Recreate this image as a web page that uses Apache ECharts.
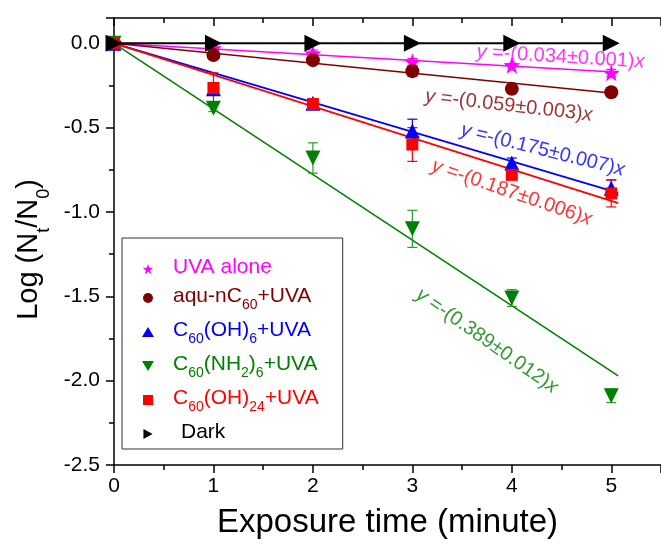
<!DOCTYPE html>
<html>
<head>
<meta charset="utf-8">
<script src="https://cdn.jsdelivr.net/npm/echarts@6/dist/echarts.min.js"></script>
<style>html,body{margin:0;padding:0;background:#fff}#c{width:661px;height:550px}</style>
</head>
<body>
<div id="c"></div>
<script>
// ---- data ----
const times = [0, 1, 2, 3, 4, 5];
const seriesNames = ['UVA alone', 'aqu-nC60+UVA', 'C60(OH)6+UVA', 'C60(NH2)6+UVA', 'C60(OH)24+UVA', 'Dark'];
const uvaAlone   = [0, -0.03, -0.06, -0.11, -0.13, -0.175];
const uvaAloneErr = [0, 0.01, 0.02, 0.02, 0.01, 0.02];
const aquNC60    = [0, -0.07, -0.10, -0.165, -0.27, -0.29];
const aquNC60Err = [0, 0.01, 0.02, 0.03, 0.01, 0.02];
const c60OH6     = [0, -0.27, -0.355, -0.52, -0.71, -0.86];
const c60OH6Err  = [0, 0.03, 0.02, 0.07, 0.03, 0.05];
const c60NH26    = [0, -0.385, -0.68, -1.10, -1.51, -2.09];
const c60NH26Err = [0, 0.02, 0.09, 0.11, 0.05, 0.04];
const c60OH24    = [0, -0.265, -0.36, -0.60, -0.78, -0.89];
const c60OH24Err = [0, 0.09, 0.03, 0.10, 0.02, 0.08];
const dark       = [0, 0, 0, 0, 0, 0];
// fitted lines (start and end points)
const fitUva   = [[0, 0], [5.07, -0.172]];
const fitAqu   = [[0, 0], [5.07, -0.299]];
const fitOH6   = [[0, 0], [5.07, -0.887]];
const fitNH2   = [[0, 0], [5.07, -1.972]];
const fitOH24  = [[0, 0], [5.07, -0.948]];
const fitDark  = [[0, 0], [5, 0]];
// equation annotations: [x, y, text, rotation]
const eqUva  = [4.49, -0.081, '0.034±0.001', -3.5];
const eqAqu  = [3.97, -0.37, '0.059±0.003', -6.5];
const eqOH6  = [4.31, -0.633, '0.175±0.007', -14];
const eqOH24 = [4.00, -0.885, '0.187±0.006', -19];
const eqNH2  = [3.75, -1.765, '0.389±0.012', -35];
const xTicks = [0, 1, 2, 3, 4, 5];
const yTicks = [-2.5, -2.0, -1.5, -1.0, -0.5, 0.0];

const colors = {uva: '#FF00FF', aqu: '#800000', oh6: '#0000FF', nh2: '#008000', oh24: '#FF0000', dark: '#000000'};
const STAR = 'path://M0,-10 L2.35,-3.24 9.51,-3.09 3.8,1.24 5.88,8.09 0,4 -5.88,8.09 -3.8,1.24 -9.51,-3.09 -2.35,-3.24Z';
const legendIcons = [STAR, 'circle', 'triangle', 'path://M0,0 L12,0 6,10Z', 'path://M0,0 L10,0 10,10 0,10Z', 'path://M0,0 L11,6 0,12Z'];

const chart = echarts.init(document.getElementById('c'), null, {renderer: 'canvas'});
const FONT = 'Liberation Sans, Arial, sans-serif';

function pts(vals) { return times.map((t, i) => [t, vals[i]]); }
function errPts(vals, errs) { return times.map((t, i) => [t, vals[i] - errs[i], vals[i] + errs[i]]); }

function errSeries(vals, errs, color) {
  return {
    type: 'custom', silent: true, z: 3,
    data: errPts(vals, errs),
    renderItem: function (params, api) {
      const x = api.value(0), lo = api.value(1), hi = api.value(2);
      if (hi - lo < 1e-9) return null;
      const a = api.coord([x, lo]), b = api.coord([x, hi]);
      const hw = 5;
      const st = {stroke: color, lineWidth: 1.2, fill: null};
      return {type: 'group', children: [
        {type: 'line', shape: {x1: a[0], y1: a[1], x2: b[0], y2: b[1]}, style: st},
        {type: 'line', shape: {x1: a[0] - hw, y1: a[1], x2: a[0] + hw, y2: a[1]}, style: st},
        {type: 'line', shape: {x1: b[0] - hw, y1: b[1], x2: b[0] + hw, y2: b[1]}, style: st}
      ]};
    }
  };
}
function fitSeries(data, color, w) {
  return {type: 'line', data: data, symbol: 'none', silent: true, z: 2,
    lineStyle: {color: color, width: w || 1.6}, animation: false};
}
function scatter(name, vals, color, symbol, size, rot) {
  return {type: 'scatter', name: name, data: pts(vals), symbol: symbol, symbolSize: size,
    symbolRotate: rot || 0, itemStyle: {color: color, opacity: 1}, z: 5, animation: false};
}

function richFor(color) {
  return {
    n: {fontSize: 21, lineHeight: 24, color: color, fontFamily: FONT, verticalAlign: 'top'},
    s: {fontSize: 14, lineHeight: 14, color: color, fontFamily: FONT, verticalAlign: 'top', padding: [12, 0, 0, 0]},
    g: {width: 14, fontSize: 21, lineHeight: 24, verticalAlign: 'top'},
    g2: {width: 22, fontSize: 21, lineHeight: 24, verticalAlign: 'top'}
  };
}
const legendText = {
  'UVA alone': '{g| }{n|UVA alone}',
  'aqu-nC60+UVA': '{g| }{n|aqu-nC}{s|60}{n|+UVA}',
  'C60(OH)6+UVA': '{g| }{n|C}{s|60}{n|(OH)}{s|6}{n|+UVA}',
  'C60(NH2)6+UVA': '{g| }{n|C}{s|60}{n|(NH}{s|2}{n|)}{s|6}{n|+UVA}',
  'C60(OH)24+UVA': '{g| }{n|C}{s|60}{n|(OH)}{s|24}{n|+UVA}',
  'Dark': '{g2| }{n|Dark}'
};
const legendColors = [colors.uva, colors.aqu, colors.oh6, colors.nh2, colors.oh24, colors.dark];

function eqItem(e, color) {
  return {
    value: [e[0], e[1]],
    label: {
      show: true, position: 'inside', rotate: e[3],
      formatter: '{i|y} =-(' + e[2] + '){i|x}',
      color: color, fontSize: 20, fontFamily: FONT,
      rich: {i: {fontStyle: 'italic', fontSize: 20, color: color, fontFamily: FONT}}
    }
  };
}

const option = {
  animation: false,
  backgroundColor: '#ffffff',
  textStyle: {fontFamily: FONT},
  grid: {left: 114, right: -3, top: 18, bottom: 85, containLabel: false},
  xAxis: [
    {
      type: 'value', min: 0, max: 5.5, interval: 1, position: 'bottom',
      name: 'Exposure time (minute)', nameLocation: 'middle', nameGap: 41,
      nameTextStyle: {fontSize: 33, color: '#000', fontFamily: FONT},
      axisLine: {onZero: false, lineStyle: {color: '#000', width: 1.5}},
      axisTick: {show: true, inside: false, length: 8, lineStyle: {color: '#000', width: 1.5}},
      minorTick: {show: true, splitNumber: 2, length: 5, lineStyle: {color: '#000', width: 1.5}},
      splitLine: {show: false},
      axisLabel: {fontSize: 21, color: '#000', margin: 11, showMaxLabel: false, fontFamily: FONT,
        formatter: v => (xTicks.indexOf(v) >= 0 ? String(v) : '')}
    },
    {
      type: 'value', min: 0, max: 5.5, interval: 1, position: 'top',
      axisLine: {onZero: false, lineStyle: {color: '#000', width: 1.5}},
      axisTick: {show: true, inside: true, length: 8, lineStyle: {color: '#000', width: 1.5}},
      minorTick: {show: true, splitNumber: 2, length: 5, lineStyle: {color: '#000', width: 1.5}},
      splitLine: {show: false}, axisLabel: {show: false}
    }
  ],
  yAxis: {
    type: 'value', min: -2.5, max: 0.15, interval: 0.5,
    name: '{m|Log (N}{s|t}{m|/N}{s|0}{m|)}{p| }', nameLocation: 'middle', nameRotate: 90, nameGap: 63,
    nameTextStyle: {
      color: '#000',
      rich: {
        m: {fontSize: 29, lineHeight: 33, color: '#000', fontFamily: FONT, verticalAlign: 'top'},
        s: {fontSize: 18, lineHeight: 18, color: '#000', fontFamily: FONT, verticalAlign: 'top', padding: [20, 0, 0, 0]},
        p: {width: 16, fontSize: 29, lineHeight: 33, verticalAlign: 'top'}
      }
    },
    axisLine: {onZero: false, lineStyle: {color: '#000', width: 1.5}},
    axisTick: {show: true, inside: false, length: 8, lineStyle: {color: '#000', width: 1.5}},
    minorTick: {show: true, splitNumber: 2, length: 5, lineStyle: {color: '#000', width: 1.5}},
    splitLine: {show: false},
    axisLabel: {fontSize: 21, color: '#000', margin: 14, showMaxLabel: false, fontFamily: FONT,
      formatter: v => (yTicks.some(t => Math.abs(t - v) < 1e-9) ? v.toFixed(1) : '')}
  },
  legend: {
    orient: 'vertical', left: 122, top: 238,
    padding: [19, 24, 6, 20], itemGap: 8, itemWidth: 12, itemHeight: 10,
    symbolKeepAspect: true,
    borderColor: '#333', borderWidth: 1, selectedMode: false,
    data: seriesNames.map((n, i) => ({name: n, icon: legendIcons[i],
      itemStyle: {color: legendColors[i]},
      textStyle: {color: legendColors[i], rich: richFor(legendColors[i])}})),
    formatter: name => legendText[name],
    textStyle: {fontSize: 21, fontFamily: FONT, rich: richFor('#000')}
  },
  series: [
    fitSeries(fitUva, colors.uva),
    fitSeries(fitAqu, colors.aqu),
    fitSeries(fitOH6, colors.oh6, 1.8),
    fitSeries(fitNH2, colors.nh2),
    fitSeries(fitOH24, colors.oh24, 1.8),
    fitSeries(fitDark, colors.dark, 2),
    errSeries(uvaAlone, uvaAloneErr, colors.uva),
    errSeries(aquNC60, aquNC60Err, colors.aqu),
    errSeries(c60OH6, c60OH6Err, colors.oh6),
    errSeries(c60NH26, c60NH26Err, '#2E9A2E'),
    errSeries(c60OH24, c60OH24Err, colors.oh24),
    scatter(seriesNames[0], uvaAlone, colors.uva, STAR, 17),
    scatter(seriesNames[1], aquNC60, colors.aqu, 'circle', 14),
    scatter(seriesNames[2], c60OH6, colors.oh6, 'triangle', 15),
    scatter(seriesNames[3], c60NH26, colors.nh2, 'triangle', 15, 180),
    scatter(seriesNames[4], c60OH24, colors.oh24, 'rect', 12),
    scatter(seriesNames[5], dark, colors.dark, 'triangle', 17, -90),
    {
      type: 'scatter', silent: true, symbolSize: 0, z: 6,
      data: [eqItem(eqUva, colors.uva), eqItem(eqAqu, colors.aqu), eqItem(eqOH6, colors.oh6),
             eqItem(eqOH24, colors.oh24), eqItem(eqNH2, colors.nh2)]
    }
  ]
};
chart.setOption(option);
</script>
</body>
</html>
